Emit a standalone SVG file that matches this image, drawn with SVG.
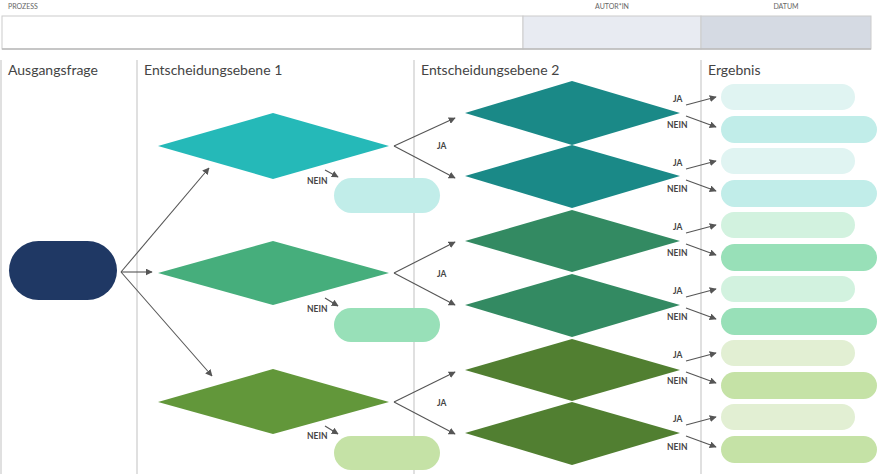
<svg xmlns="http://www.w3.org/2000/svg" width="880" height="474" viewBox="0 0 880 474">
<style>
.hl{font-family:Lato,"Liberation Sans",sans-serif;font-size:7px;fill:#666}
.col{font-family:Lato,"Liberation Sans",sans-serif;font-size:14px;fill:#444}
.lb{font-family:Lato,"Liberation Sans",sans-serif;font-size:8.5px;font-weight:bold;fill:#444}
.vl{stroke:#ccc;stroke-width:1.2}
.c{stroke:#555;stroke-width:1.1;fill:none;marker-end:url(#ah)}
.c0{stroke:#555;stroke-width:1.1;fill:none}
</style>
<defs><marker id="ah" viewBox="0 0 10 10" refX="9" refY="5" markerWidth="7" markerHeight="7" markerUnits="userSpaceOnUse" orient="auto"><path d="M0,0L10,5L0,10z" fill="#555"/></marker></defs>
<g id="header">
<text class="hl" x="8" y="9">PROZESS</text><text class="hl" x="612" y="9" text-anchor="middle">AUTOR*IN</text><text class="hl" x="786" y="9" text-anchor="middle">DATUM</text>
<rect x="2" y="16" width="521" height="33" fill="#fff" stroke="#ccc"/>
<rect x="523" y="16" width="178" height="33" fill="#e8ebf2" stroke="#ccc"/>
<rect x="701" y="16" width="170" height="33" fill="#d5dae3" stroke="#ccc"/>
<line x1="2" y1="49" x2="871" y2="49" stroke="#bbb" stroke-width="1.5"/>
</g>
<g id="columns">
<line class="vl" x1="1" y1="60" x2="1" y2="474"/><line class="vl" x1="137" y1="60" x2="137" y2="474"/><line class="vl" x1="414" y1="60" x2="414" y2="474"/><line class="vl" x1="701" y1="60" x2="701" y2="474"/>
<text class="col" x="8" y="75">Ausgangsfrage</text><text class="col" x="144" y="75">Entscheidungsebene 1</text><text class="col" x="421" y="75">Entscheidungsebene 2</text><text class="col" x="708" y="75">Ergebnis</text>
</g>
<g id="start"><rect x="9" y="241" width="108" height="59" rx="29.5" fill="#1f3864"/></g>
<g id="d1a"><polygon points="158,146 273,113 389,146 273,179" fill="#25b9b8"/></g>
<g id="d1b"><polygon points="158,273 273,241 389,273 273,305" fill="#46ae7c"/></g>
<g id="d1c"><polygon points="158,402 273,369 389,402 273,434" fill="#62973a"/></g>
<g id="n1a"><rect x="334" y="178" width="106" height="35" rx="17.5" fill="#c1ede9"/></g>
<g id="n1b"><rect x="334" y="308" width="106" height="34" rx="17" fill="#98e0b8"/></g>
<g id="n1c"><rect x="334" y="436" width="106" height="34" rx="17" fill="#c5e2a6"/></g>
<g id="d2">
<polygon points="465,113 572,81 680,113 572,145" fill="#1a8987"/>
<polygon points="465,176 572,145 680,176 572,208" fill="#1a8987"/>
<polygon points="465,241 572,210 680,241 572,272" fill="#338a62"/>
<polygon points="465,305 572,274 680,305 572,337" fill="#338a62"/>
<polygon points="465,370 572,339 680,370 572,401" fill="#517f31"/>
<polygon points="465,433 572,402 680,433 572,465" fill="#517f31"/>
</g>
<g id="results">
<rect x="721" y="84" width="134" height="26" rx="13" fill="#e0f4f2"/><rect x="721" y="116" width="156" height="27" rx="13.5" fill="#c1ede9"/>
<rect x="721" y="148" width="134" height="26" rx="13" fill="#e0f4f2"/><rect x="721" y="180" width="156" height="27" rx="13.5" fill="#c1ede9"/>
<rect x="721" y="212" width="134" height="26" rx="13" fill="#d2f2df"/><rect x="721" y="244" width="156" height="27" rx="13.5" fill="#98e0b8"/>
<rect x="721" y="276" width="134" height="26" rx="13" fill="#d2f2df"/><rect x="721" y="308" width="156" height="27" rx="13.5" fill="#98e0b8"/>
<rect x="721" y="340" width="134" height="26" rx="13" fill="#e2efd3"/><rect x="721" y="372" width="156" height="27" rx="13.5" fill="#c5e2a6"/>
<rect x="721" y="404" width="134" height="26" rx="13" fill="#e2efd3"/><rect x="721" y="436" width="156" height="27" rx="13.5" fill="#c5e2a6"/>
</g>
<g id="connectors">
<path class="c" d="M121,272L209,168"/><path class="c" d="M121,272L152,272"/><path class="c" d="M121,272L212,376"/>
<path class="c" d="M325,170L338,177"/><path class="c" d="M325,298L338,306"/><path class="c" d="M325,426L338,434"/>
<path class="c" d="M394,146L455,118"/><path class="c" d="M394,146L455,178"/>
<path class="c" d="M394,273L455,242"/><path class="c" d="M394,273L455,305"/>
<path class="c" d="M394,402L455,372"/><path class="c" d="M394,402L455,434"/>
<path class="c" d="M686,105L716,97"/><path class="c" d="M686,116L716,127"/>
<path class="c" d="M686,169L716,161"/><path class="c" d="M686,180L716,191"/>
<path class="c" d="M686,233L716,225"/><path class="c" d="M686,244L716,255"/>
<path class="c" d="M686,297L716,289"/><path class="c" d="M686,308L716,319"/>
<path class="c" d="M686,361L716,353"/><path class="c" d="M686,372L716,383"/>
<path class="c" d="M686,425L716,417"/><path class="c" d="M686,436L716,447"/>
</g>
<g id="labels">
<text class="lb" x="307" y="184">NEIN</text><text class="lb" x="307" y="312">NEIN</text><text class="lb" x="307" y="439">NEIN</text>
<text class="lb" x="437" y="149">JA</text><text class="lb" x="437" y="277">JA</text><text class="lb" x="437" y="406">JA</text>
<text class="lb" x="673" y="102">JA</text><text class="lb" x="667" y="128">NEIN</text>
<text class="lb" x="673" y="166">JA</text><text class="lb" x="667" y="192">NEIN</text>
<text class="lb" x="673" y="230">JA</text><text class="lb" x="667" y="256">NEIN</text>
<text class="lb" x="673" y="294">JA</text><text class="lb" x="667" y="320">NEIN</text>
<text class="lb" x="673" y="358">JA</text><text class="lb" x="667" y="384">NEIN</text>
<text class="lb" x="673" y="422">JA</text><text class="lb" x="667" y="450">NEIN</text>
</g>
</svg>
